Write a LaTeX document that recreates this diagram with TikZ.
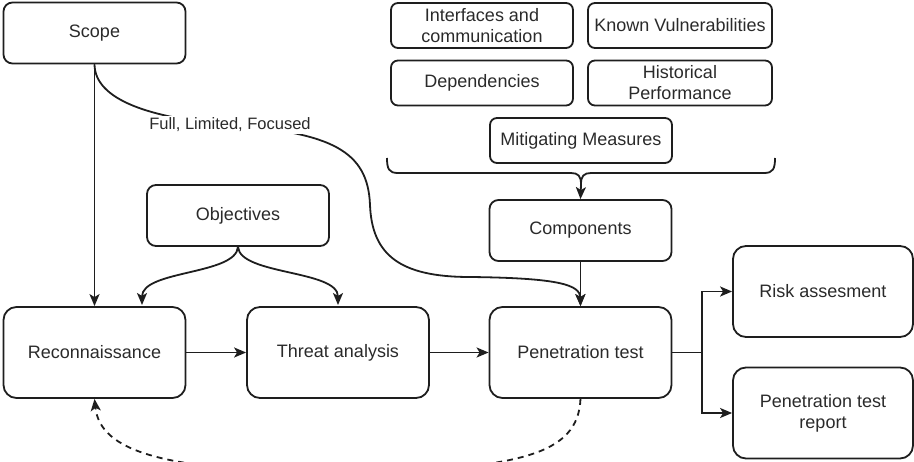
\documentclass[tikz,border=0pt]{standalone}
\usepackage{fontspec}
\setmainfont{Liberation Sans}
\usetikzlibrary{arrows.meta}
\definecolor{ink}{HTML}{1E1E1E}
\definecolor{txt}{HTML}{2A2A2A}
\begin{document}
\begin{tikzpicture}[x=1pt,y=-1pt,
  line width=1.8pt, draw=ink,
  box/.style={draw=ink, rounded corners=13pt, minimum width=182pt, minimum height=91pt,
    inner sep=0pt, align=center, text=txt, font=\fontsize{18}{21}\selectfont},
  sbox/.style={box, rounded corners=9pt, minimum height=61pt},
  tbox/.style={box, rounded corners=7pt, minimum height=45pt},
  arr/.style={-{Stealth[length=12pt,width=10pt,inset=3pt]}},
  lbl/.style={fill=white, inner sep=2pt, text=txt, font=\fontsize{16.5}{19}\selectfont},
  dashline/.style={dash pattern=on 6pt off 5pt}
]
\useasboundingbox (0,0) rectangle (914,462);

% main pipeline
\node[box] (recon)  at (94.5,352.5) {Reconnaissance};
\node[box] (threat) at (338,352.5) {Threat analysis};
\node[box] (pen)    at (580.5,352.5) {Penetration test};
\node[box, minimum width=180pt] (risk)   at (823,291.5) {Risk assesment};
\node[box, minimum width=180pt] (report) at (823,413) {Penetration test\\report};

% inputs
\node[sbox] (scope) at (94.5,33) {Scope};
\node[sbox] (obj)   at (238,215.5) {Objectives};
\node[sbox] (comp)  at (580.5,230.5) {Components};

% component properties
\node[tbox] (iface) at (482,25.5) {Interfaces and\\communication};
\node[tbox, minimum width=184pt] (known) at (680,25.5) {Known Vulnerabilities};
\node[tbox] (dep)   at (482,83) {Dependencies};
\node[tbox, minimum width=184pt] (hist)  at (680,83) {Historical\\Performance};
\node[tbox] (mit)   at (581,140.5) {Mitigating Measures};

% curly brace gathering the properties
\coordinate (btip) at (581,184);
\draw (387,158) .. controls (387,169) and (389,173) .. (398,173) -- (571,173)
  .. controls (578,173) and (581,176) .. (btip);
\draw (775,158) .. controls (775,169) and (773,173) .. (764,173) -- (591,173)
  .. controls (584,173) and (581,176) .. (btip);
\draw[arr] (btip) -- (comp.north);

% flow arrows
\draw[arr] (scope.south) -- (recon.north);
\draw[arr] (recon.east) -- (threat.west);
\draw[arr] (threat.east) -- (pen.west);
\draw[arr] (comp.south) -- (pen.north);
\coordinate (split) at (702,352.5);
\draw[arr] (pen.east) -- (split) |- (risk.west);
\draw[arr] (split) |- (report.west);

% objectives feed both early stages
\draw[arr] (obj.south) .. controls (236,275) and (142,270) .. (142,305);
\draw[arr] (obj.south) .. controls (240,275) and (338,270) .. (338,305);

% scope choice to the penetration test
\draw[arr] (scope.south) .. controls (95,100) and (150,118) .. (230,125)
  node[lbl] (lab) {Full, Limited, Focused}
  .. controls (330,133) and (368,150) .. (370,205)
  .. controls (372,255) and (400,277) .. (470,277)
  .. controls (560,278) and (580,285) .. (pen.north);

% feedback loop
\draw[arr, dashline] (pen.south) .. controls (578,455) and (520,470) .. (340,472)
  .. controls (160,472) and (100,450) .. (recon.south);
\end{tikzpicture}
\end{document}
